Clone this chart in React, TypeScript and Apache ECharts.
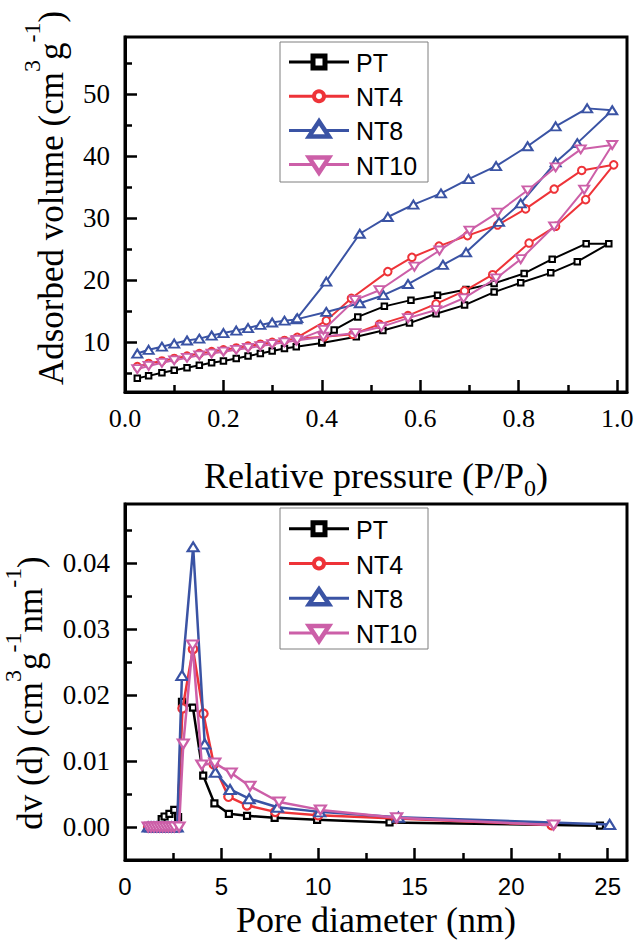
import React, { useEffect, useRef } from "react";
import * as echarts from "echarts";

// ---------- Isotherm (top) ----------
const ISO_X_MAJOR = [0, 0.2, 0.4, 0.6, 0.8, 1.0];
const ISO_X_MINOR = [0.1, 0.3, 0.5, 0.7, 0.9];
const ISO_Y_MAJOR = [10, 20, 30, 40, 50];
const ISO_Y_MINOR = [5, 15, 25, 35, 45, 55];

const ISO_LOW_P = [0.025, 0.048, 0.075, 0.1, 0.126, 0.151, 0.176, 0.2, 0.226, 0.25, 0.275, 0.299, 0.324, 0.348];
const PT_LOW = [4.2, 4.6, 5.1, 5.5, 5.9, 6.3, 6.7, 7.0, 7.4, 7.8, 8.2, 8.6, 9.0, 9.3];
const NT4_LOW = [6.1, 6.6, 7.0, 7.4, 7.8, 8.2, 8.5, 8.8, 9.1, 9.4, 9.7, 10.0, 10.3, 10.6];
const NT8_LOW = [8.2, 8.8, 9.3, 9.8, 10.3, 10.6, 11.1, 11.5, 11.9, 12.3, 12.8, 13.2, 13.5, 13.7];
const NT10_LOW = [5.7, 6.2, 6.7, 7.1, 7.5, 7.9, 8.2, 8.5, 8.8, 9.1, 9.4, 9.7, 10.0, 10.3];

const PT_ADS = [[0.4, 9.9], [0.47, 10.9], [0.524, 11.9], [0.578, 13.1], [0.632, 14.6], [0.69, 16.0], [0.75, 18.1], [0.804, 19.6], [0.865, 21.2], [0.919, 23.0], [0.983, 25.9]];
const PT_DES = [[0.937, 25.9], [0.868, 23.4], [0.811, 21.1], [0.75, 19.5], [0.693, 18.5], [0.635, 17.6], [0.581, 16.8], [0.527, 15.8], [0.473, 14.1], [0.425, 12.0], [0.4, 10.0]];

const NT4_ADS = [[0.405, 10.9], [0.463, 11.3], [0.517, 12.9], [0.575, 14.3], [0.632, 16.2], [0.69, 18.3], [0.747, 20.9], [0.821, 26.0], [0.875, 28.7], [0.936, 33.0], [0.993, 38.6]];
const NT4_DES = [[0.928, 37.7], [0.872, 34.7], [0.814, 31.5], [0.757, 28.9], [0.696, 27.2], [0.638, 25.5], [0.583, 23.7], [0.534, 21.4], [0.46, 17.1], [0.409, 13.5], [0.35, 10.8]];

const NT8_ADS = [[0.409, 14.9], [0.477, 16.3], [0.525, 17.6], [0.575, 19.4], [0.646, 22.5], [0.693, 24.5], [0.76, 29.4], [0.804, 32.4], [0.875, 39.0], [0.919, 42.1], [0.99, 47.4]];
const NT8_DES = [[0.939, 47.7], [0.875, 44.8], [0.818, 41.6], [0.754, 38.4], [0.698, 36.3], [0.642, 34.0], [0.586, 32.2], [0.534, 30.2], [0.477, 27.5], [0.409, 19.8], [0.35, 13.9]];

const NT10_ADS = [[0.403, 10.9], [0.468, 11.5], [0.521, 12.5], [0.575, 13.9], [0.632, 15.2], [0.688, 17.1], [0.754, 20.3], [0.804, 23.4], [0.872, 28.7], [0.933, 34.6], [0.99, 41.8]];
const NT10_DES = [[0.926, 41.1], [0.875, 38.2], [0.818, 34.5], [0.757, 30.9], [0.7, 28.0], [0.639, 24.8], [0.588, 22.2], [0.517, 18.4], [0.467, 16.8], [0.403, 12.0], [0.35, 10.4]];

// ---------- Pore size distribution (bottom) ----------
const PSD_X_MAJOR = [0, 5, 10, 15, 20, 25];
const PSD_X_MINOR = [2.5, 7.5, 12.5, 17.5, 22.5];
const PSD_Y_MAJOR = [0, 0.01, 0.02, 0.03, 0.04];
const PSD_Y_MINOR = [0.005, 0.015, 0.025, 0.035, 0.045];

const PSD_PT = [[1.2, 0], [1.35, 0], [1.5, 0], [1.65, 0], [1.8, 0], [1.9, 0.0012], [2.05, 0.0016], [2.3, 0.002], [2.55, 0.0026], [2.75, 0.0015], [2.95, 0.019], [3.52, 0.0181], [4.05, 0.0078], [4.63, 0.0036], [5.38, 0.002], [6.32, 0.0017], [7.75, 0.0014], [9.95, 0.0011], [13.7, 0.0007], [24.6, 0.0002]];
const PSD_NT4 = [[1.2, 0], [1.35, 0], [1.5, 0], [1.65, 0], [1.8, 0], [1.95, 0], [2.1, 0], [2.25, 0], [2.4, 0], [2.55, 0], [2.7, 0], [2.98, 0.018], [3.52, 0.027], [4.06, 0.0172], [4.6, 0.0095], [5.36, 0.0046], [6.32, 0.0033], [7.78, 0.0023], [10.0, 0.0018], [14.05, 0.0013], [22.1, 0.0003]];
const PSD_NT8 = [[1.2, 0], [1.35, 0], [1.5, 0], [1.65, 0], [1.8, 0], [1.95, 0], [2.1, 0], [2.25, 0], [2.4, 0], [2.55, 0], [2.7, 0], [2.95, 0.023], [3.53, 0.0425], [4.13, 0.0126], [4.68, 0.0083], [5.44, 0.0057], [6.43, 0.0043], [7.9, 0.003], [10.08, 0.0023], [14.16, 0.0015], [25.1, 0.0004]];
const PSD_NT10 = [[1.2, 0], [1.35, 0], [1.5, 0], [1.65, 0], [1.8, 0], [1.95, 0], [2.1, 0], [2.25, 0], [2.4, 0], [2.55, 0], [2.8, 0], [3.02, 0.0126], [3.5, 0.0276], [3.98, 0.0094], [4.65, 0.0097], [5.5, 0.0082], [6.47, 0.0062], [7.98, 0.0038], [10.12, 0.0026], [14.07, 0.0014], [22.2, 0.0003]];

const NAMES = ["PT", "NT4", "NT8", "NT10"];
const COLORS = ["#000000", "#ee3338", "#3a53a4", "#cc5fa8"];

const SERIF = "Liberation Serif";
const SANS = "Liberation Sans";

function lowPairs(vals: number[]) {
  return ISO_LOW_P.map((p, i) => [p, vals[i]]);
}

function valueAxis(grid: number, min: number, max: number, major: number[], minor: number[], fmt: (v: number) => string, font: string, size: number, margin: number, isX: boolean) {
  const main: any = {
    gridIndex: grid,
    type: "value",
    min,
    max,
    position: isX ? "bottom" : "left",
    axisLine: { show: true, onZero: false, lineStyle: { color: "#000", width: 3 } },
    axisTick: { show: true, inside: true, length: 12, customValues: major, lineStyle: { color: "#000", width: 2.5 } },
    axisLabel: { show: true, customValues: major, formatter: fmt, fontFamily: font, fontSize: size, color: "#000", margin },
    splitLine: { show: false },
  };
  const sub: any = {
    gridIndex: grid,
    type: "value",
    min,
    max,
    position: isX ? "bottom" : "left",
    axisLine: { show: false, onZero: false },
    axisTick: { show: true, inside: true, length: 7, customValues: minor, lineStyle: { color: "#000", width: 2.5 } },
    axisLabel: { show: false },
    splitLine: { show: false },
  };
  return [main, sub];
}

function legendGraphic(left: number, top: number, w: number, h: number, firstY: number, step: number) {
  const children: any[] = [
    { type: "rect", shape: { x: left, y: top, width: w, height: h }, style: { fill: "#fff", stroke: "#7f7f7f", lineWidth: 1 } },
  ];
  const x1 = left + 9;
  const x2 = left + 69;
  const cx = left + 39;
  NAMES.forEach((name, i) => {
    const cy = firstY + i * step;
    const c = COLORS[i];
    children.push({ type: "line", shape: { x1, y1: cy, x2, y2: cy }, style: { stroke: c, lineWidth: 3 } });
    if (i === 0) {
      children.push({ type: "rect", shape: { x: cx - 6, y: cy - 6, width: 12, height: 12 }, style: { fill: "#fff", stroke: c, lineWidth: 5 } });
    } else if (i === 1) {
      children.push({ type: "circle", shape: { cx, cy, r: 5 }, style: { fill: "#fff", stroke: c, lineWidth: 4 } });
    } else if (i === 2) {
      children.push({ type: "polygon", shape: { points: [[cx, cy - 9], [cx - 10, cy + 6], [cx + 10, cy + 6]] }, style: { fill: "#fff", stroke: c, lineWidth: 4.5, lineJoin: "miter" } });
    } else {
      children.push({ type: "polygon", shape: { points: [[cx - 10, cy - 7], [cx + 10, cy - 7], [cx, cy + 8]] }, style: { fill: "#fff", stroke: c, lineWidth: 4.5, lineJoin: "miter" } });
    }
    children.push({ type: "text", x: left + 76, y: cy + 1, style: { text: name, fontFamily: SANS, fontSize: 25, fill: "#000", align: "left", verticalAlign: "middle" } });
  });
  return { type: "group", children };
}

export default function App() {
  const ref = useRef<HTMLDivElement>(null);
  useEffect(() => {
    if (!ref.current) return;
    const chart = echarts.init(ref.current, undefined, { renderer: "svg" });

    const isoData = [
      lowPairs(PT_LOW).concat(PT_ADS, PT_DES),
      lowPairs(NT4_LOW).concat(NT4_ADS, NT4_DES),
      lowPairs(NT8_LOW).concat(NT8_ADS, NT8_DES),
      lowPairs(NT10_LOW).concat(NT10_ADS, NT10_DES),
    ];
    const psdData = [PSD_PT, PSD_NT4, PSD_NT8, PSD_NT10];

    const symbolsTop: any[] = [
      { symbol: "rect", symbolSize: 5.5, symbolRotate: 0 },
      { symbol: "circle", symbolSize: 7.5, symbolRotate: 0 },
      { symbol: "triangle", symbolSize: [10, 8], symbolRotate: 0 },
      { symbol: "triangle", symbolSize: [10, 8], symbolRotate: 180 },
    ];
    const symbolsBottom: any[] = [
      { symbol: "rect", symbolSize: 6, symbolRotate: 0 },
      { symbol: "circle", symbolSize: 8.5, symbolRotate: 0 },
      { symbol: "triangle", symbolSize: [11, 9], symbolRotate: 0 },
      { symbol: "triangle", symbolSize: [11, 9], symbolRotate: 180 },
    ];

    const series: any[] = [];
    NAMES.forEach((name, i) => {
      series.push({
        name,
        type: "line",
        xAxisIndex: 0,
        yAxisIndex: 0,
        data: isoData[i],
        ...symbolsTop[i],
        showAllSymbol: true,
        lineStyle: { color: COLORS[i], width: 2 },
        itemStyle: { color: "#fff", borderColor: COLORS[i], borderWidth: 2 },
        z: 3 + i,
      });
    });
    NAMES.forEach((name, i) => {
      series.push({
        name,
        type: "line",
        xAxisIndex: 2,
        yAxisIndex: 2,
        data: psdData[i],
        ...symbolsBottom[i],
        showAllSymbol: true,
        lineStyle: { color: COLORS[i], width: 2.5 },
        itemStyle: { color: "#fff", borderColor: COLORS[i], borderWidth: 2.2 },
        z: 3 + i,
      });
    });

    const option: any = {
      animation: false,
      backgroundColor: "#fff",
      grid: [
        { left: 125, top: 37, width: 502, height: 355, show: true, borderColor: "#000", borderWidth: 3, backgroundColor: "transparent", outerBoundsMode: "none", containLabel: false },
        { left: 125, top: 504, width: 502, height: 356, show: true, borderColor: "#000", borderWidth: 3, backgroundColor: "transparent", outerBoundsMode: "none", containLabel: false },
      ],
      xAxis: [
        ...valueAxis(0, 0, 1.02, ISO_X_MAJOR, ISO_X_MINOR, (v: number) => v.toFixed(1), SERIF, 26, 13, true),
        ...valueAxis(1, 0, 26, PSD_X_MAJOR, PSD_X_MINOR, (v: number) => String(v), SANS, 24, 14, true),
      ],
      yAxis: [
        ...valueAxis(0, 2, 59.2, ISO_Y_MAJOR, ISO_Y_MINOR, (v: number) => String(v), SERIF, 27, 15, false),
        ...valueAxis(1, -0.005, 0.049, PSD_Y_MAJOR, PSD_Y_MINOR, (v: number) => v.toFixed(2), SERIF, 27, 15, false),
      ],
      series,
      graphic: [
        legendGraphic(280, 42, 148, 140, 62, 34.2),
        legendGraphic(280, 508, 148, 141, 528.7, 34.8),
        {
          type: "text",
          x: 376,
          y: 476,
          style: {
            text: "{m|Relative pressure (P/P}{b|0}{m|)}",
            align: "center",
            verticalAlign: "middle",
            fill: "#000",
            rich: {
              m: { fontFamily: SERIF, fontSize: 36, lineHeight: 36, fill: "#000" },
              b: { fontFamily: SERIF, fontSize: 24, lineHeight: 24, padding: [24, 0, 0, 0], fill: "#000" },
            },
          },
        },
        {
          type: "text",
          x: 376,
          y: 920,
          style: { text: "Pore diameter (nm)", fontFamily: SERIF, fontSize: 36, fill: "#000", align: "center", verticalAlign: "middle" },
        },
        {
          type: "text",
          x: 51,
          y: 198,
          rotation: Math.PI / 2,
          style: {
            text: "{m|Adsorbed volume (cm}{s|3}{m|g}{s|-1}{m|)}",
            align: "center",
            verticalAlign: "middle",
            fill: "#000",
            rich: {
              m: { fontFamily: SERIF, fontSize: 35, lineHeight: 35, fill: "#000" },
              s: { fontFamily: SERIF, fontSize: 24, lineHeight: 24, padding: [0, 0, 38, 0], fill: "#000" },
            },
          },
        },
        {
          type: "text",
          x: 30,
          y: 693,
          rotation: Math.PI / 2,
          style: {
            text: "{m|dv (d) (cm}{s|3}{m|g}{s|-1}{m|nm}{s|-1}{m|)}",
            align: "center",
            verticalAlign: "middle",
            fill: "#000",
            rich: {
              m: { fontFamily: SERIF, fontSize: 35, lineHeight: 35, fill: "#000" },
              s: { fontFamily: SERIF, fontSize: 24, lineHeight: 24, padding: [0, 0, 34, 0], fill: "#000" },
            },
          },
        },
      ],
    };
    chart.setOption(option);
    return () => chart.dispose();
  }, []);

  return <div ref={ref} style={{ position: "absolute", left: 0, top: 0, width: 638, height: 940, background: "#fff" }} />;
}
